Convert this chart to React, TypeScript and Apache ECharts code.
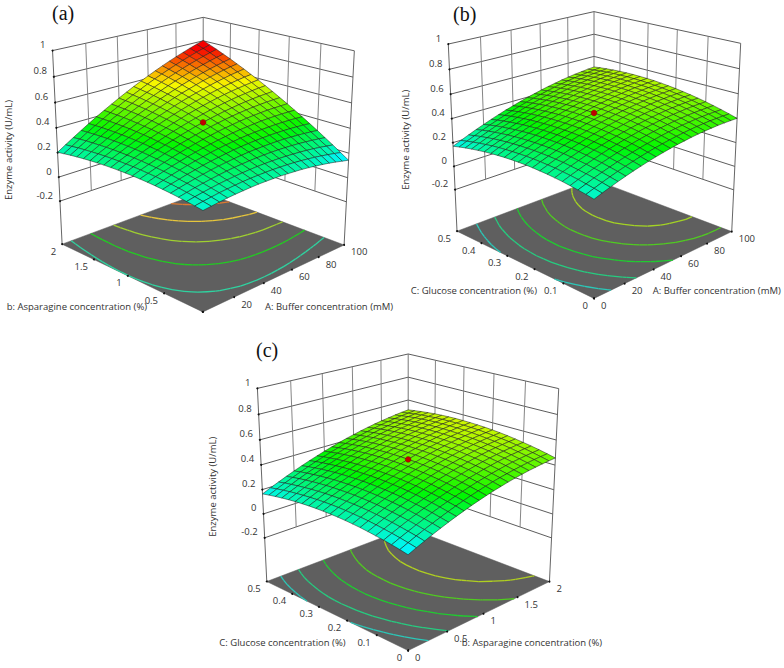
import React, { useEffect, useRef } from "react";
import * as echarts from "echarts";

const zTicks = [-0.2, 0, 0.2, 0.4, 0.6, 0.8, 1];

// Enzyme activity, in thousandths of U/mL.
// Rows: second factor low -> high. Columns: first factor low -> high.
const surfaceA = [
[193,201,209,216,221,225,228,230,230,229,228,224,220,215,208,200,191,181,169,156,143],
[203,213,222,231,237,243,248,251,253,254,254,252,250,246,241,234,227,218,208,197,185],
[212,224,235,244,253,260,266,271,275,278,279,279,278,276,272,268,262,255,247,237,227],
[220,233,246,257,267,276,284,291,296,300,303,305,306,305,303,300,296,290,284,276,267],
[227,242,256,269,281,292,301,309,316,322,327,330,332,333,333,332,329,325,320,314,307],
[233,250,265,280,293,306,317,326,335,343,349,354,358,360,362,362,361,359,355,351,345],
[238,256,274,290,305,319,331,343,353,362,370,377,382,386,389,391,392,391,390,387,383],
[242,262,281,299,315,331,345,358,370,381,390,399,406,411,416,420,422,423,423,422,419],
[245,266,287,307,325,342,358,373,386,398,410,419,428,436,442,447,451,454,455,455,455],
[247,270,292,313,333,352,370,386,401,415,428,439,450,459,467,473,479,483,486,488,489],
[248,273,297,319,341,361,380,398,415,431,445,458,470,481,490,499,506,512,517,520,523],
[248,274,300,324,347,369,390,410,428,445,461,476,490,502,513,523,532,539,546,551,555],
[247,275,302,328,353,377,399,420,440,459,477,493,508,522,535,547,557,566,574,581,587],
[245,275,303,331,357,383,407,429,451,472,491,509,526,541,556,569,581,592,601,610,617],
[242,273,304,333,361,388,413,438,461,483,504,524,542,559,575,590,604,616,628,638,647],
[238,271,303,334,363,392,419,445,470,494,516,538,558,576,594,611,626,640,653,665,675],
[233,267,301,334,365,395,424,452,478,503,528,550,572,593,612,630,647,663,677,690,703],
[227,263,298,332,365,397,428,457,485,512,538,562,586,608,629,648,667,684,700,715,729],
[220,258,295,330,365,398,430,461,491,520,547,573,598,622,644,666,686,705,723,739,755],
[212,251,290,327,363,398,432,465,496,526,555,583,610,635,659,682,704,724,744,762,779],
[203,244,284,323,361,398,433,467,500,532,563,592,620,647,673,698,721,743,764,784,803],
];
const surfaceB = [
[194,216,236,256,274,291,306,321,334,346,357,367,375,383,389,394,397,400,401,401,400],
[206,228,249,268,287,304,320,335,348,361,372,382,391,398,405,410,414,417,418,419,418],
[216,238,260,280,298,316,332,347,361,374,385,396,405,413,420,425,430,433,435,435,435],
[225,248,269,289,309,326,343,359,373,386,398,408,418,426,433,439,444,447,449,450,450],
[233,256,277,298,317,336,353,368,383,396,409,420,429,438,445,451,456,460,463,464,464],
[239,262,284,305,325,344,361,377,392,406,418,429,439,448,456,463,468,472,475,477,477],
[244,268,290,311,331,350,368,384,399,413,426,438,448,457,465,472,478,482,485,488,488],
[247,271,294,316,336,355,373,390,405,420,433,445,456,465,473,481,487,491,495,497,498],
[250,274,297,319,340,359,377,394,410,425,438,451,462,471,480,488,494,499,503,505,507],
[251,275,298,321,342,361,380,397,414,429,442,455,466,476,485,493,500,505,509,512,514],
[250,275,299,321,342,363,381,399,416,431,445,458,470,480,489,498,504,510,515,518,520],
[248,273,297,320,342,362,381,399,416,432,446,460,472,482,492,500,508,514,518,522,525],
[245,270,295,318,340,361,380,398,416,432,446,460,472,483,493,502,510,516,521,525,528],
[240,266,291,314,337,358,377,396,414,430,445,459,471,483,493,502,510,517,522,526,529],
[234,261,285,309,332,353,373,392,410,427,442,456,469,481,492,501,509,516,522,527,530],
[227,254,279,303,326,348,368,387,405,422,438,453,466,478,489,499,507,514,520,525,529],
[218,245,271,295,318,340,361,381,399,417,433,447,461,473,485,495,503,511,517,523,527],
[208,235,261,286,310,332,353,373,392,409,426,441,455,468,479,489,499,506,513,519,523],
[197,224,251,276,300,322,344,364,383,401,417,433,447,460,472,483,492,501,508,513,518],
[184,212,238,264,288,311,333,353,373,391,408,424,438,452,464,475,485,493,501,507,512],
[170,198,225,251,275,299,321,342,361,380,397,413,428,442,454,466,476,485,492,499,504],
];
const surfaceC = [
[149,176,201,226,249,271,292,311,330,347,363,378,391,404,415,425,434,441,448,453,457],
[162,189,215,239,262,284,305,325,344,361,377,392,406,418,429,439,448,456,463,468,472],
[174,201,226,251,274,297,318,337,356,373,390,405,418,431,442,453,462,469,476,481,486],
[184,211,237,262,285,308,329,349,367,385,401,416,430,443,454,465,474,482,488,494,498],
[193,220,246,271,295,317,338,358,377,395,411,426,440,453,465,475,484,492,499,505,509],
[201,228,254,279,303,326,347,367,386,404,420,435,449,462,474,485,494,502,509,515,519],
[208,235,261,286,310,333,354,374,393,411,428,443,457,470,482,493,502,510,517,523,528],
[213,240,267,292,316,338,360,380,399,417,434,449,464,477,489,499,509,517,524,530,535],
[217,244,271,296,320,343,364,385,404,422,439,454,469,482,494,505,514,523,530,536,541],
[220,247,274,299,323,346,368,388,408,426,443,458,473,486,498,509,519,527,535,541,546],
[221,249,275,301,325,348,370,390,410,428,445,461,475,489,501,512,522,530,538,544,549],
[221,249,276,301,326,349,371,391,411,429,446,462,477,490,503,514,524,532,540,546,551],
[220,248,275,300,325,348,370,391,410,429,446,462,477,490,503,514,524,533,540,547,552],
[218,246,273,298,323,346,368,389,409,427,445,461,476,489,502,513,523,532,540,546,552],
[214,242,269,295,320,343,365,386,406,425,442,458,473,487,500,511,521,530,538,545,550],
[209,237,264,290,315,339,361,382,402,421,438,454,469,483,496,508,518,527,535,542,547],
[203,231,258,284,309,333,355,376,396,415,433,449,464,478,491,503,513,522,530,537,543],
[195,224,251,277,302,326,348,370,390,409,426,443,458,472,485,497,507,517,525,532,537],
[186,215,242,269,294,317,340,361,382,401,418,435,450,465,478,489,500,509,518,525,530],
[176,205,233,259,284,308,331,352,372,391,409,426,442,456,469,481,492,501,509,516,522],
[165,194,221,248,273,297,320,341,362,381,399,416,431,446,459,471,482,491,500,507,513],
];
const levelsA = [0.25, 0.35, 0.46, 0.58, 0.7];
const levelsB = [0.24, 0.3, 0.365, 0.425, 0.48];
const levelsC = [0.215, 0.275, 0.35, 0.42, 0.485];
const bufferTicks = ["0", "20", "40", "60", "80", "100"];
const bufferTicksA = ["", "20", "40", "60", "80", "100"];
const asparagineTicks = ["0", "0.5", "1", "1.5", "2"];
const asparagineTicksA = ["", "0.5", "1", "1.5", "2"];
const glucoseTicks = ["0", "0.1", "0.2", "0.3", "0.4", "0.5"];

const colorStops: [number, number[]][] = [[0.17,[0,255,255]],[0.36,[0,255,0]],[0.59,[255,255,0]],[0.76,[255,0,0]]];
function mix(z:number){ const s=colorStops; if(z<=s[0][0])return s[0][1]; for(let i=1;i<s.length;i++){ if(z<=s[i][0]){const t=(z-s[i-1][0])/(s[i][0]-s[i-1][0]);return s[i-1][1].map((c,k)=>c+(s[i][1][k]-c)*t);} } return s[s.length-1][1]; }
const css=(c:number[],f=1)=>`rgb(${c.map(v=>Math.round(v*f)).join(",")})`;

const panels:any[]=[
 {name:"a",zf:-0.567,corners:{F:[203,312],R:[344,245],L:[62,244],B:[203,192],TL:[52.5,50.7],TR:[354.3,50.7],TB:[203.3,17.3]},
  z:surfaceA,levels:levelsA,levelColors:["#2fd3a0","#22cc22","#a0d030","#e6c63c","#e07a30"],uT:bufferTicksA,vT:asparagineTicksA,
  letter:["(a)",52,13],zT:[8,150],uTitle:["A: Buffer concentration (mM)",265,306],vTitle:["b: Asparagine concentration (%)",6.7,306.7]},
 {name:"b",zf:-0.564,corners:{F:[594,298.3],R:[731.7,231.7],L:[457,231.3],B:[594,179.5],TL:[448.3,44],TR:[740.7,43.3],TB:[594,11.7]},
  z:surfaceB,levels:levelsB,levelColors:["#2bc8b8","#26cc80","#20cc30","#50cc20","#a4d424"],uT:bufferTicks,vT:glucoseTicks,
  letter:["(b)",453,14],zT:[405,139.7],uTitle:["A: Buffer concentration (mM)",652.7,290.7],vTitle:["C: Glucose concentration (%)",410.7,290.7]},
 {name:"c",zf:-0.574,corners:{F:[408.3,650],R:[549.3,582.3],L:[266.7,582],B:[408.3,527],TL:[257.3,388.3],TR:[558.7,388.3],TB:[408.3,354.3]},
  z:surfaceC,levels:levelsC,levelColors:["#2bc8b8","#26cc80","#20cc30","#50cc20","#b0d020"],uT:asparagineTicks,vT:glucoseTicks,
  letter:["(c)",256,350],zT:[212.7,486.7],uTitle:["b: Asparagine concentration (%)",461.7,642.7],vTitle:["C: Glucose concentration (%)",219.3,642.7]},
];

function solve(A:number[][],b:number[]){const n=b.length;const M=A.map((r,i)=>[...r,b[i]]);for(let i=0;i<n;i++){let p=i;for(let k=i+1;k<n;k++)if(Math.abs(M[k][i])>Math.abs(M[p][i]))p=k;[M[i],M[p]]=[M[p],M[i]];for(let k=0;k<n;k++){if(k===i)continue;const f=M[k][i]/M[i][i];for(let m=i;m<=n;m++)M[k][m]-=f*M[i][m];}}return M.map((r,i)=>r[n]/r[i]);}
function camera(c:any){
 const pts:[number[],number[]][]=[[[0,0,0],c.F],[[1,0,0],c.R],[[0,1,0],c.L],[[1,1,0],c.B],[[0,1,1],c.TL],[[1,0,1],c.TR],[[1,1,1],c.TB]];
 const rows:number[][]=[];const rhs:number[]=[];
 for(const [[u,v,w],[x,y]] of pts){rows.push([u,v,w,1,0,0,0,0,-x*u,-x*v,-x*w]);rhs.push(x);rows.push([0,0,0,0,u,v,w,1,-y*u,-y*v,-y*w]);rhs.push(y);}
 const N=Array.from({length:11},()=>new Array(11).fill(0));const t=new Array(11).fill(0);
 rows.forEach((r,k)=>{for(let i=0;i<11;i++){t[i]+=r[i]*rhs[k];for(let j=0;j<11;j++)N[i][j]+=r[i]*r[j];}});
 const p=solve(N,t);
 return (u:number,v:number,w:number)=>{const d=p[8]*u+p[9]*v+p[10]*w+1;return [(p[0]*u+p[1]*v+p[2]*w+p[3])/d,(p[4]*u+p[5]*v+p[6]*w+p[7])/d];};
}

function layer(name:string,z:number,items:any[],draw:(it:any,pt:(p:number[])=>number[])=>any){
 return {type:"custom",name,z,silent:true,clip:false,coordinateSystem:"cartesian2d",data:items.map((_,i)=>[i,i]),
  renderItem:(params:any,api:any)=>draw(items[params.dataIndex],(p:number[])=>api.coord(p))};
}
const FONT='"Open Sans", sans-serif';
const SIZE=9.5;
function buildSeries(P:any){
 const proj=camera(P.corners);
 const W=(z:number)=>(z-P.zf)/(1-P.zf);
 const Z=(j:number,i:number)=>P.z[j][i]/1000;
 const pr=(u:number,v:number,z:number)=>proj(u,v,W(z));
 const line=(a:number[],b:number[],stroke:string,lw:number)=>({type:"line",shape:{x1:a[0],y1:a[1],x2:b[0],y2:b[1]},style:{stroke,lineWidth:lw}});
 const nU=P.uT.length-1,nV=P.vT.length-1;
 const out:any[]=[];
 out.push(layer(P.name+"-floor",1,[0],(_,c)=>({type:"polygon",shape:{points:[[0,0],[1,0],[1,1],[0,1]].map(([u,v])=>c(proj(u,v,0)))},style:{fill:"#5f5f5f",stroke:"#555",lineWidth:.5}})));
 const wl:any[]=[];
 for(const z of zTicks){wl.push([[0,1],[1,1],z,z,"#4a4a4a"]);wl.push([[1,0],[1,1],z,z,"#4a4a4a"]);}
 for(let i=1;i<=4;i++){const nu=5;wl.push([[i/nu,1],[i/nu,1],-.2,1,"#777"]);wl.push([[1,i/nu],[1,i/nu],-.2,1,"#777"]);}
 wl.push([[1,1],[1,1],-.2,1,"#666"]);
 wl.push([[0,1],[0,1],P.zf,1,"#555"]);wl.push([[1,0],[1,0],P.zf,1,"#555"]);
 out.push(layer(P.name+"-walls",2,wl,(w,c)=>line(c(pr(w[0][0],w[0][1],w[2])),c(pr(w[1][0],w[1][1],w[3])),w[4],.9)));
 const segs:any[]=[];
 P.levels.forEach((lv:number,li:number)=>{for(let j=0;j<20;j++)for(let i=0;i<20;i++){
  const q=[[i,j],[i+1,j],[i+1,j+1],[i,j+1]];const cr:number[][]=[];
  for(let k=0;k<4;k++){const a=q[k],b=q[(k+1)%4];const za=Z(a[1],a[0]),zb=Z(b[1],b[0]);if((za<lv)!==(zb<lv)){const t=(lv-za)/(zb-za);cr.push([(a[0]+(b[0]-a[0])*t)/20,(a[1]+(b[1]-a[1])*t)/20]);}}
  if(cr.length>=2)segs.push([cr[0],cr[1],P.levelColors[li]]);
 }});
 out.push(layer(P.name+"-contours",3,segs,(s,c)=>line(c(proj(s[0][0],s[0][1],0)),c(proj(s[1][0],s[1][1],0)),s[2],1.3)));
 const tk:any[]=[];
 for(const z of zTicks)tk.push([0,1,W(z)]);
 for(let i=0;i<=nU;i++)tk.push([i/nU,0,0]);
 for(let i=0;i<=nV;i++)tk.push([0,i/nV,0]);
 out.push(layer(P.name+"-ticks",4,tk,(t,c)=>{const p=c(proj(t[0],t[1],t[2]));return {type:"circle",shape:{cx:p[0],cy:p[1],r:1},style:{fill:"#111"}};}));
 const cells:number[][]=[];for(let s=38;s>=0;s--)for(let j=19;j>=0;j--){const i=s-j;if(i>=0&&i<20)cells.push([i,j]);}
 out.push(layer(P.name+"-surface",5,cells,([i,j],c)=>{
  const zm=(Z(j,i)+Z(j,i+1)+Z(j+1,i)+Z(j+1,i+1))/4;
  const pts=[[i,j],[i+1,j],[i+1,j+1],[i,j+1]].map(([a,b])=>c(pr(a/20,b/20,Z(b,a))));
  return {type:"polygon",shape:{points:pts},style:{fill:css(mix(zm),.97),stroke:"rgba(25,25,25,0.72)",lineWidth:.7}};
 }));
 out.push(layer(P.name+"-dot",6,[0],(_,c)=>{const p=c(pr(.5,.5,Z(10,10)));return {type:"circle",shape:{cx:p[0],cy:p[1],r:2.9},style:{fill:"#c00000",stroke:"#700",lineWidth:.4}};}));
 const lab:any[]=[];
 for(const z of zTicks){const p=pr(0,1,z);lab.push([String(z),p[0]-7,p[1]-6,"right"]);}
 P.uT.forEach((t:string,i:number)=>{if(t){const p=proj(i/nU,0,0);lab.push([t,p[0]+7,p[1]+7,"left"]);}});
 P.vT.forEach((t:string,i:number)=>{if(t){const p=proj(0,i/nV,0);lab.push([t,p[0]-6,p[1]+7,"right"]);}});
 out.push(layer(P.name+"-labels",7,lab,(l,c)=>{const p=c([l[1],l[2]]);return {type:"text",style:{text:l[0],x:p[0],y:p[1],align:l[3],verticalAlign:"middle",font:`${SIZE}px ${FONT}`,fill:"#333"}};}));
 return out;
}
const txt=(text:string,x:number,y:number,font:string,extra:any={})=>({type:"text",x,y,style:{text,font,fill:"#333",textAlign:"left",textVerticalAlign:"middle",...extra}});

export default function App(){
 const ref=useRef<HTMLDivElement>(null);
 useEffect(()=>{
  document.body.style.margin="0";
  const chart=echarts.init(ref.current!,undefined,{renderer:"svg"});
  const graphic:any[]=[];
  for(const P of panels){
   graphic.push(txt(P.letter[0],P.letter[1],P.letter[2],'20px "Liberation Serif", serif',{fill:"#111"}));
   graphic.push({type:"text",x:P.zT[0],y:P.zT[1],rotation:Math.PI/2,style:{text:"Enzyme activity (U/mL)",font:`${SIZE}px ${FONT}`,fill:"#333",textAlign:"center",textVerticalAlign:"middle"}});
   graphic.push(txt(P.uTitle[0],P.uTitle[1],P.uTitle[2],`${SIZE}px ${FONT}`));
   graphic.push(txt(P.vTitle[0],P.vTitle[1],P.vTitle[2],`${SIZE}px ${FONT}`));
  }
  chart.setOption({animation:false,backgroundColor:"#fff",grid:{left:0,right:0,top:0,bottom:0},
   xAxis:{type:"value",min:0,max:784,show:false},yAxis:{type:"value",min:0,max:668,inverse:true,show:false},
   graphic,series:panels.flatMap(buildSeries)});
  return ()=>chart.dispose();
 },[]);
 return <div ref={ref} style={{width:784,height:668}}/>;
}
